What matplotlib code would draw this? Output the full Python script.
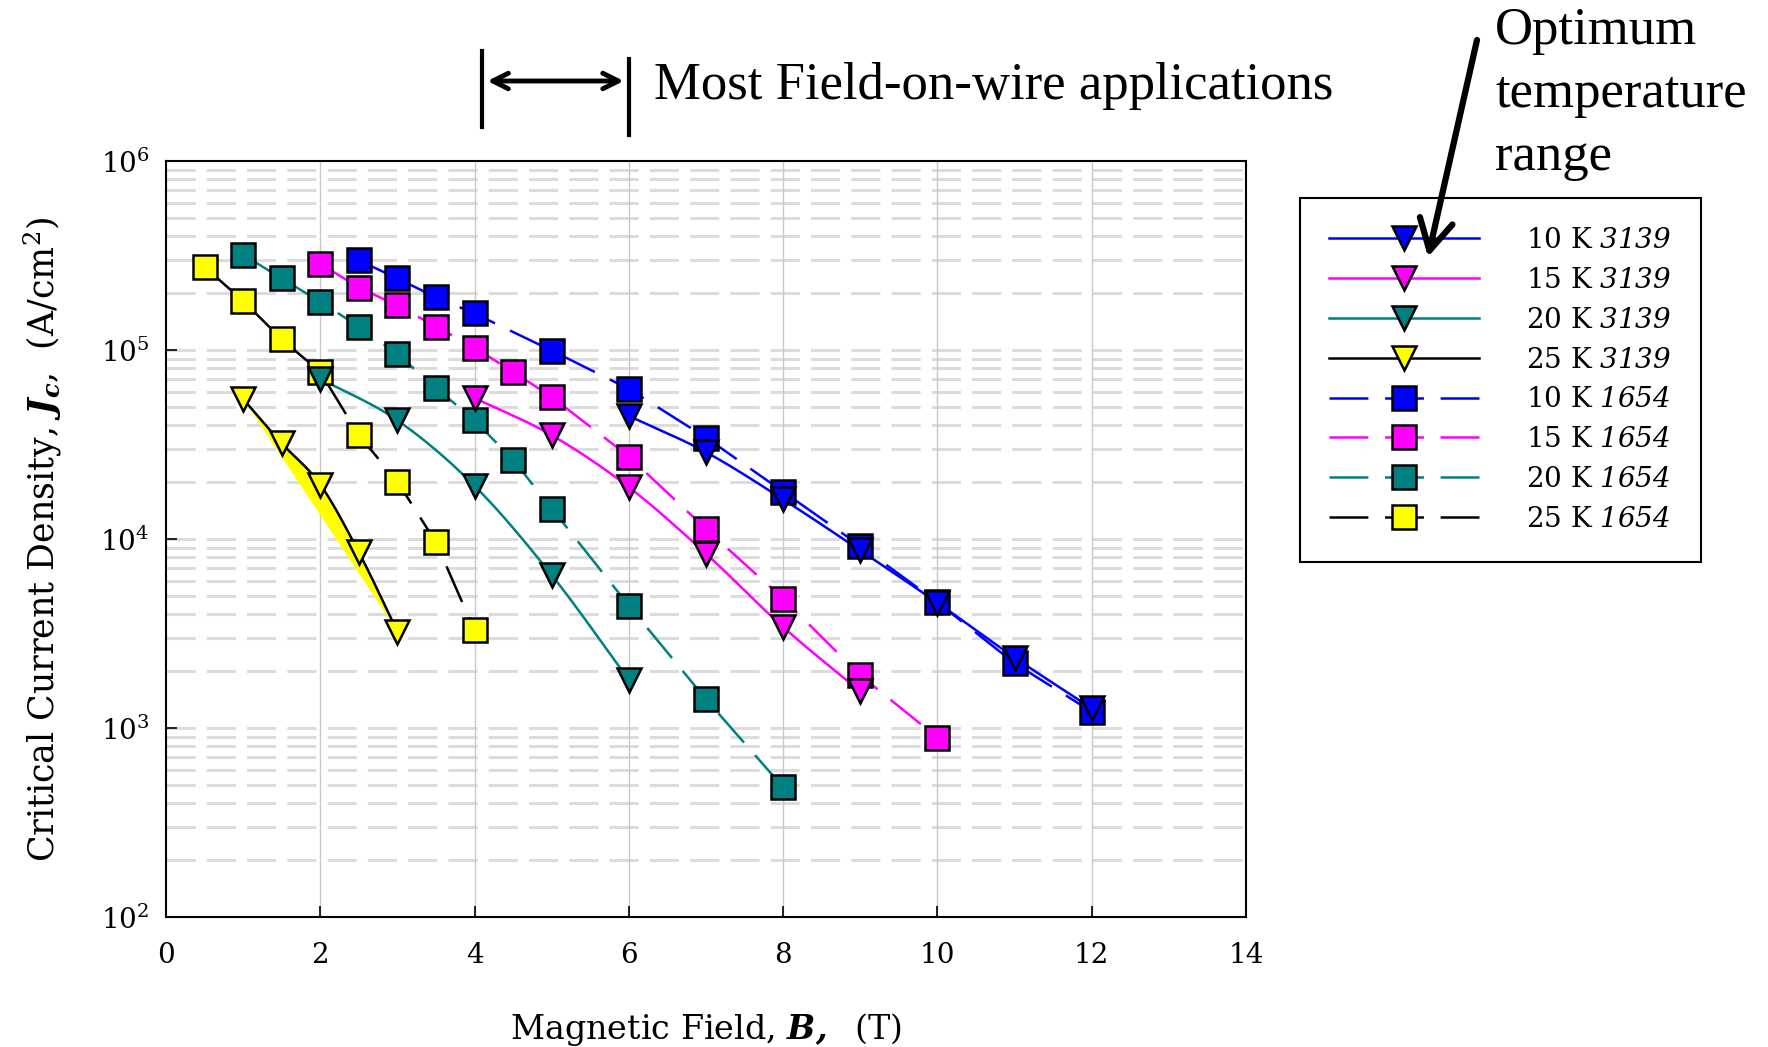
import numpy as np
import matplotlib
matplotlib.use('Agg')
import matplotlib.pyplot as plt
from matplotlib.lines import Line2D
from matplotlib.patches import FancyArrowPatch
from matplotlib import transforms
from matplotlib.ticker import FixedLocator, NullFormatter, FuncFormatter

plt.rcParams['font.family'] = ['DejaVu Serif']
plt.rcParams['mathtext.fontset'] = 'custom'
plt.rcParams['mathtext.rm'] = 'DejaVu Serif'
plt.rcParams['mathtext.it'] = 'DejaVu Serif:italic'
plt.rcParams['mathtext.sf'] = 'DejaVu Serif:italic'
plt.rcParams['mathtext.bf'] = 'DejaVu Serif:bold:italic'
plt.rcParams['lines.scale_dashes'] = False

# ---------------- data ----------------
# wire 3139 (solid lines, down triangles)
B_3139_10K = [6, 7, 8, 9, 10, 11, 12]
Jc_3139_10K = [4.48e4, 2.88e4, 1.62e4, 8.7e3, 4.6e3, 2.36e3, 1.27e3]
B_3139_15K = [4, 5, 6, 7, 8, 9]
Jc_3139_15K = [5.57e4, 3.54e4, 1.88e4, 8.36e3, 3.42e3, 1.56e3]
B_3139_20K = [2, 3, 4, 5, 6]
Jc_3139_20K = [7.05e4, 4.24e4, 1.91e4, 6.44e3, 1.8e3]
B_3139_25K = [1, 1.5, 2, 2.5, 3]
Jc_3139_25K = [5.5e4, 3.21e4, 1.94e4, 8.5e3, 3.24e3]

# wire 1654 (dashed lines, squares)
B_1654_10K = [2.5, 3, 3.5, 4, 5, 6, 7, 8, 9, 10, 11, 12]
Jc_1654_10K = [2.98e5, 2.39e5, 1.9e5, 1.56e5, 9.93e4, 6.22e4, 3.44e4, 1.78e4,
               9.2e3, 4.63e3, 2.2e3, 1.22e3]
B_1654_15K = [2, 2.5, 3, 3.5, 4, 4.5, 5, 6, 7, 8, 9, 10]
Jc_1654_15K = [2.86e5, 2.14e5, 1.72e5, 1.33e5, 1.03e5, 7.65e4, 5.65e4, 2.73e4,
               1.13e4, 4.83e3, 1.9e3, 890]
B_1654_20K = [1, 1.5, 2, 2.5, 3, 3.5, 4, 4.5, 5, 6, 7, 8]
Jc_1654_20K = [3.19e5, 2.39e5, 1.8e5, 1.33e5, 9.5e4, 6.3e4, 4.24e4, 2.62e4,
               1.45e4, 4.44e3, 1.42e3, 486]
B_1654_25K = [0.5, 1, 1.5, 2, 2.5, 3, 3.5, 4]
Jc_1654_25K = [2.75e5, 1.82e5, 1.14e5, 7.65e4, 3.54e4, 2.01e4, 9.6e3, 3.28e3]

labels_3139 = ['10 K $\\mathsf{3139}$', '15 K $\\mathsf{3139}$',
               '20 K $\\mathsf{3139}$', '25 K $\\mathsf{3139}$']
labels_1654 = ['10 K $\\mathsf{1654}$', '15 K $\\mathsf{1654}$',
               '20 K $\\mathsf{1654}$', '25 K $\\mathsf{1654}$']
x_ticks = [0, 2, 4, 6, 8, 10, 12, 14]
y_major = [1e2, 1e3, 1e4, 1e5, 1e6]
optimum_lines = ['Optimum', 'temperature', 'range']

line_colors = ['#0000ff', '#ff00ff', '#008080', '#000000']
face_colors = ['#0000ff', '#ff00ff', '#008080', '#ffff00']


def smooth(x, y, n=30):
    """Catmull-Rom curve through the points in (x, log y) space."""
    x = np.asarray(x, float)
    ly = np.log10(np.asarray(y, float))
    P = np.column_stack([x, ly])
    P = np.vstack([2 * P[0] - P[1], P, 2 * P[-1] - P[-2]])
    out = []
    t = np.linspace(0, 1, n)[:, None]
    for i in range(1, len(P) - 2):
        p0, p1, p2, p3 = P[i - 1], P[i], P[i + 1], P[i + 2]
        seg = 0.5 * ((2 * p1) + (-p0 + p2) * t + (2 * p0 - 5 * p1 + 4 * p2 - p3) * t ** 2
                     + (-p0 + 3 * p1 - 3 * p2 + p3) * t ** 3)
        out.append(seg if i == len(P) - 3 else seg[:-1])
    out = np.vstack(out)
    return out[:, 0], 10 ** out[:, 1]


W, H = 1768, 1047
fig = plt.figure(figsize=(W / 100, H / 100), dpi=100)
ax = fig.add_axes([166 / W, 1 - 917 / H, (1246 - 166) / W, (917 - 161) / H])
ax.set_yscale('log')
ax.set_xlim(0, 14)
ax.set_ylim(1e2, 1e6)

# grid
ax.yaxis.set_major_locator(FixedLocator(y_major))
minor = [m * 10 ** e for e in range(2, 6) for m in range(2, 10)]
ax.yaxis.set_minor_locator(FixedLocator(minor))
ax.yaxis.set_minor_formatter(NullFormatter())
ax.yaxis.set_major_formatter(FuncFormatter(lambda v, p: '$10^{%d}$' % round(np.log10(v))))
for v in minor + y_major[1:-1]:
    ax.axhline(v, color='#dcdcdc', lw=2.2, dashes=(21, 8), zorder=0)
for xv in x_ticks[1:-1]:
    ax.axvline(xv, color='#c8c8c8', lw=1.0, zorder=0)
ax.set_xticks(x_ticks)
ax.tick_params(axis='both', which='major', direction='in', length=8, width=1.2,
               labelsize=20, colors='black')
ax.tick_params(axis='x', pad=18)
ax.tick_params(axis='y', pad=12)
ax.tick_params(axis='y', which='minor', length=0)
for s in ax.spines.values():
    s.set_linewidth(1.5)

ms = 17
handles = []
series_3139 = [(B_3139_10K, Jc_3139_10K), (B_3139_15K, Jc_3139_15K),
               (B_3139_20K, Jc_3139_20K), (B_3139_25K, Jc_3139_25K)]
series_1654 = [(B_1654_10K, Jc_1654_10K), (B_1654_15K, Jc_1654_15K),
               (B_1654_20K, Jc_1654_20K), (B_1654_25K, Jc_1654_25K)]

# yellow shaded band for 25 K 3139
sx, sy = smooth(B_3139_25K, Jc_3139_25K)
chord = 10 ** np.interp(sx, [B_3139_25K[0], B_3139_25K[-1]],
                        np.log10([Jc_3139_25K[0], Jc_3139_25K[-1]]))
ax.fill_between(sx, chord, sy, color='#ffff00', lw=0, zorder=1)

for i, (bx, jy) in enumerate(series_3139):
    sx, sy = smooth(bx, jy)
    ax.plot(sx, sy, color=line_colors[i], lw=1.8, zorder=2)
    ax.plot(bx, jy, ls='none', marker='v', ms=ms, mfc=face_colors[i], mec='black',
            mew=1.8, zorder=4)
    handles.append(Line2D([], [], color=line_colors[i], lw=1.8, marker='v', ms=ms,
                          mfc=face_colors[i], mec='black', mew=1.8, label=labels_3139[i]))

for i, (bx, jy) in enumerate(series_1654):
    ax.plot(bx, jy, color=line_colors[i], lw=1.8, dashes=(28, 12), marker='s', ms=ms,
            mfc=face_colors[i], mec='black', mew=1.8, zorder=3)
    handles.append(Line2D([], [], color=line_colors[i], lw=1.8, dashes=(28, 12), marker='s',
                          ms=ms, mfc=face_colors[i], mec='black', mew=1.8,
                          label=labels_1654[i]))

ax.set_xlabel('Magnetic Field, $\\mathbf{B,}$  (T)', fontsize=24, labelpad=30)
ax.set_ylabel('Critical Current Density, $\\mathbf{J_c}$,  (A/cm$^2$)', fontsize=25,
              labelpad=26)

leg = fig.legend(handles=handles, loc='upper left',
                 bbox_to_anchor=(1300 / W, 1 - 198 / H), fontsize=20,
                 frameon=True, fancybox=False, edgecolor='black', framealpha=1,
                 handlelength=5.4, handletextpad=1.7, labelspacing=0.46,
                 borderpad=1.05, borderaxespad=0)
leg.get_frame().set_linewidth(1.5)
leg.set_zorder(5)

# annotation: most field-on-wire applications
trans = transforms.blended_transform_factory(ax.transData, fig.transFigure)
ax.add_line(Line2D([4.1, 4.1], [1 - 51 / H, 1 - 127 / H], transform=trans,
                   color='black', lw=3, clip_on=False))
ax.add_line(Line2D([6.0, 6.0], [1 - 59 / H, 1 - 135 / H], transform=trans,
                   color='black', lw=3, clip_on=False))
ax.annotate('', xy=(4.13, 1 - 81 / H), xytext=(5.97, 1 - 81 / H), xycoords=trans,
            textcoords=trans, arrowprops=dict(arrowstyle='<->', lw=3.5,
                                              mutation_scale=28, color='black'),
            annotation_clip=False)
ax.text(6.33, 1 - 86 / H, 'Most Field-on-wire applications', transform=trans,
        fontsize=38, va='center', ha='left', family='Liberation Serif')

# annotation: optimum temperature range
for k, txt in enumerate(optimum_lines):
    fig.text(1495 / W, 1 - (44 + 63 * k) / H, txt, fontsize=38,
             va='baseline', ha='left', family='Liberation Serif')
arrow = FancyArrowPatch(posA=(1477 / W, 1 - 40 / H), posB=(1428 / W, 1 - 257 / H),
                        transform=fig.transFigure,
                        arrowstyle='->,head_length=0.55,head_width=0.3',
                        mutation_scale=40, lw=4.5, color='black',
                        shrinkA=0, shrinkB=0, zorder=10)
fig.add_artist(arrow)

fig.savefig('out.png', dpi=100)
